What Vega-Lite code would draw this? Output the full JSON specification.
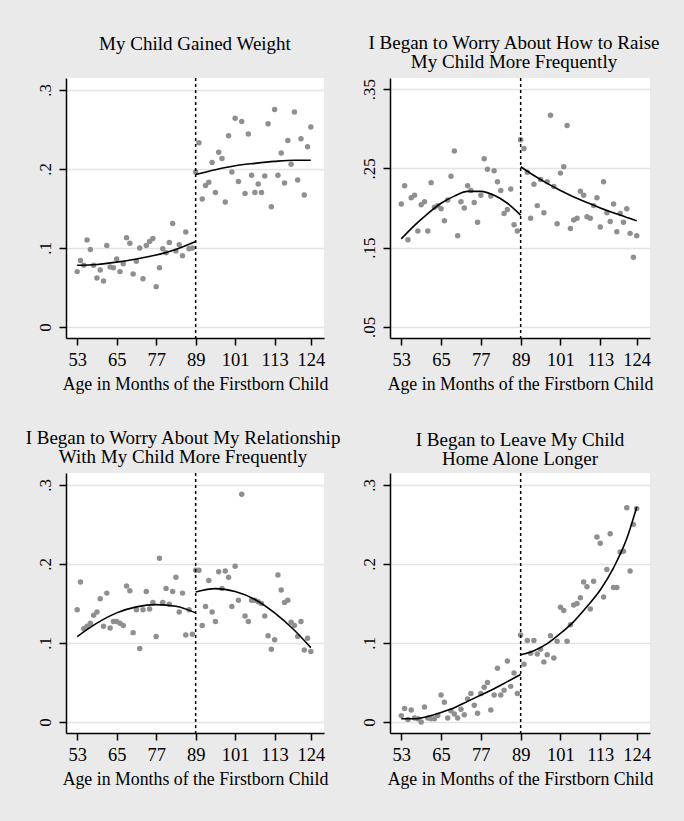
{
  "$schema": "https://vega.github.io/schema/vega-lite/v6.json",
  "padding": {"left": 24, "top": 34, "right": 25, "bottom": 33},
  "background": "#eaeaea",
  "bounds": "flush",
  "columns": 2,
  "spacing": {"row": 135, "column": 66},
  "datasets": {
    "p1": [
      {"m":53,"v":0.070},{"m":54,"v":0.084},{"m":55,"v":0.078},{"m":56,"v":0.110},{"m":57,"v":0.098},{"m":58,"v":0.078},{"m":59,"v":0.062},{"m":60,"v":0.072},{"m":61,"v":0.058},{"m":62,"v":0.103},{"m":63,"v":0.076},{"m":64,"v":0.075},{"m":65,"v":0.086},{"m":66,"v":0.070},{"m":67,"v":0.080},{"m":68,"v":0.113},{"m":69,"v":0.106},{"m":70,"v":0.067},{"m":71,"v":0.083},{"m":72,"v":0.100},{"m":73,"v":0.061},{"m":74,"v":0.103},{"m":75,"v":0.108},{"m":76,"v":0.112},{"m":77,"v":0.051},{"m":78,"v":0.075},{"m":79,"v":0.099},{"m":80,"v":0.094},{"m":81,"v":0.107},{"m":82,"v":0.131},{"m":83,"v":0.096},{"m":84,"v":0.104},{"m":85,"v":0.090},{"m":86,"v":0.120},{"m":87,"v":0.099},{"m":88,"v":0.100},
      {"m":89,"v":0.196},{"m":90,"v":0.233},{"m":91,"v":0.162},{"m":92,"v":0.179},{"m":93,"v":0.183},{"m":94,"v":0.208},{"m":95,"v":0.170},{"m":96,"v":0.221},{"m":97,"v":0.213},{"m":98,"v":0.158},{"m":99,"v":0.242},{"m":100,"v":0.196},{"m":101,"v":0.264},{"m":102,"v":0.184},{"m":103,"v":0.260},{"m":104,"v":0.169},{"m":105,"v":0.244},{"m":106,"v":0.192},{"m":107,"v":0.170},{"m":108,"v":0.181},{"m":109,"v":0.170},{"m":110,"v":0.191},{"m":111,"v":0.257},{"m":112,"v":0.152},{"m":113,"v":0.275},{"m":114,"v":0.192},{"m":115,"v":0.220},{"m":116,"v":0.182},{"m":117,"v":0.236},{"m":118,"v":0.206},{"m":119,"v":0.272},{"m":120,"v":0.186},{"m":121,"v":0.238},{"m":122,"v":0.167},{"m":123,"v":0.228},{"m":124,"v":0.253}
    ],
    "p2": [
      {"m":53,"v":0.205},{"m":54,"v":0.228},{"m":55,"v":0.160},{"m":56,"v":0.213},{"m":57,"v":0.216},{"m":58,"v":0.171},{"m":59,"v":0.204},{"m":60,"v":0.208},{"m":61,"v":0.171},{"m":62,"v":0.232},{"m":63,"v":0.201},{"m":64,"v":0.203},{"m":65,"v":0.199},{"m":66,"v":0.184},{"m":67,"v":0.210},{"m":68,"v":0.240},{"m":69,"v":0.272},{"m":70,"v":0.165},{"m":71,"v":0.208},{"m":72,"v":0.200},{"m":73,"v":0.228},{"m":74,"v":0.222},{"m":75,"v":0.207},{"m":76,"v":0.182},{"m":77,"v":0.216},{"m":78,"v":0.262},{"m":79,"v":0.249},{"m":80,"v":0.215},{"m":81,"v":0.247},{"m":82,"v":0.233},{"m":83,"v":0.222},{"m":84,"v":0.193},{"m":85,"v":0.198},{"m":86,"v":0.224},{"m":87,"v":0.179},{"m":88,"v":0.171},
      {"m":89,"v":0.286},{"m":90,"v":0.275},{"m":91,"v":0.245},{"m":92,"v":0.187},{"m":93,"v":0.230},{"m":94,"v":0.203},{"m":95,"v":0.236},{"m":96,"v":0.194},{"m":97,"v":0.233},{"m":98,"v":0.317},{"m":99,"v":0.227},{"m":100,"v":0.180},{"m":101,"v":0.244},{"m":102,"v":0.252},{"m":103,"v":0.304},{"m":104,"v":0.174},{"m":105,"v":0.185},{"m":106,"v":0.187},{"m":107,"v":0.221},{"m":108,"v":0.216},{"m":109,"v":0.189},{"m":110,"v":0.187},{"m":111,"v":0.203},{"m":112,"v":0.213},{"m":113,"v":0.176},{"m":114,"v":0.233},{"m":115,"v":0.194},{"m":116,"v":0.183},{"m":117,"v":0.205},{"m":118,"v":0.170},{"m":119,"v":0.193},{"m":120,"v":0.182},{"m":121,"v":0.199},{"m":122,"v":0.168},{"m":123,"v":0.138},{"m":124,"v":0.165}
    ],
    "p3": [
      {"m":53,"v":0.142},{"m":54,"v":0.177},{"m":55,"v":0.118},{"m":56,"v":0.121},{"m":57,"v":0.125},{"m":58,"v":0.135},{"m":59,"v":0.139},{"m":60,"v":0.156},{"m":61,"v":0.121},{"m":62,"v":0.163},{"m":63,"v":0.119},{"m":64,"v":0.127},{"m":65,"v":0.127},{"m":66,"v":0.125},{"m":67,"v":0.122},{"m":68,"v":0.172},{"m":69,"v":0.166},{"m":70,"v":0.113},{"m":71,"v":0.142},{"m":72,"v":0.093},{"m":73,"v":0.142},{"m":74,"v":0.165},{"m":75,"v":0.143},{"m":76,"v":0.151},{"m":77,"v":0.108},{"m":78,"v":0.207},{"m":79,"v":0.151},{"m":80,"v":0.169},{"m":81,"v":0.149},{"m":82,"v":0.165},{"m":83,"v":0.183},{"m":84,"v":0.139},{"m":85,"v":0.163},{"m":86,"v":0.110},{"m":87,"v":0.142},{"m":88,"v":0.111},
      {"m":89,"v":0.192},{"m":90,"v":0.192},{"m":91,"v":0.122},{"m":92,"v":0.146},{"m":93,"v":0.179},{"m":94,"v":0.139},{"m":95,"v":0.127},{"m":96,"v":0.190},{"m":97,"v":0.169},{"m":98,"v":0.191},{"m":99,"v":0.183},{"m":100,"v":0.146},{"m":101,"v":0.197},{"m":102,"v":0.154},{"m":103,"v":0.288},{"m":104,"v":0.134},{"m":105,"v":0.127},{"m":106,"v":0.154},{"m":107,"v":0.154},{"m":108,"v":0.152},{"m":109,"v":0.150},{"m":110,"v":0.134},{"m":111,"v":0.109},{"m":112,"v":0.092},{"m":113,"v":0.104},{"m":114,"v":0.186},{"m":115,"v":0.167},{"m":116,"v":0.151},{"m":117,"v":0.154},{"m":118,"v":0.126},{"m":119,"v":0.122},{"m":120,"v":0.108},{"m":121,"v":0.127},{"m":122,"v":0.091},{"m":123,"v":0.106},{"m":124,"v":0.089}
    ],
    "p4": [
      {"m":53,"v":0.008},{"m":54,"v":0.017},{"m":55,"v":0.003},{"m":56,"v":0.015},{"m":57,"v":0.005},{"m":58,"v":0.004},{"m":59,"v":0.000},{"m":60,"v":0.019},{"m":61,"v":0.005},{"m":62,"v":0.004},{"m":63,"v":0.004},{"m":64,"v":0.008},{"m":65,"v":0.034},{"m":66,"v":0.025},{"m":67,"v":0.005},{"m":68,"v":0.014},{"m":69,"v":0.010},{"m":70,"v":0.005},{"m":71,"v":0.016},{"m":72,"v":0.009},{"m":73,"v":0.029},{"m":74,"v":0.036},{"m":75,"v":0.021},{"m":76,"v":0.011},{"m":77,"v":0.036},{"m":78,"v":0.044},{"m":79,"v":0.050},{"m":80,"v":0.015},{"m":81,"v":0.034},{"m":82,"v":0.068},{"m":83,"v":0.034},{"m":84,"v":0.040},{"m":85,"v":0.077},{"m":86,"v":0.045},{"m":87,"v":0.062},{"m":88,"v":0.036},
      {"m":89,"v":0.110},{"m":90,"v":0.073},{"m":91,"v":0.103},{"m":92,"v":0.087},{"m":93,"v":0.103},{"m":94,"v":0.086},{"m":95,"v":0.092},{"m":96,"v":0.076},{"m":97,"v":0.085},{"m":98,"v":0.109},{"m":99,"v":0.081},{"m":100,"v":0.102},{"m":101,"v":0.145},{"m":102,"v":0.141},{"m":103,"v":0.102},{"m":104,"v":0.123},{"m":105,"v":0.148},{"m":106,"v":0.150},{"m":107,"v":0.157},{"m":108,"v":0.177},{"m":109,"v":0.171},{"m":110,"v":0.143},{"m":111,"v":0.178},{"m":112,"v":0.234},{"m":113,"v":0.226},{"m":114,"v":0.158},{"m":115,"v":0.193},{"m":116,"v":0.238},{"m":117,"v":0.170},{"m":118,"v":0.170},{"m":119,"v":0.215},{"m":120,"v":0.216},{"m":121,"v":0.271},{"m":122,"v":0.191},{"m":123,"v":0.250},{"m":124,"v":0.270}
    ],
    "f1": [
      {"s":"pre","m":53,"v":0.078},{"s":"pre","m":59,"v":0.079},{"s":"pre","m":65,"v":0.082},{"s":"pre","m":71,"v":0.086},{"s":"pre","m":77,"v":0.091},{"s":"pre","m":83,"v":0.098},{"s":"pre","m":89,"v":0.108},
      {"s":"post","m":89,"v":0.193},{"s":"post","m":95,"v":0.199},{"s":"post","m":101,"v":0.204},{"s":"post","m":107,"v":0.207},{"s":"post","m":113,"v":0.2095},{"s":"post","m":119,"v":0.211},{"s":"post","m":124,"v":0.211}
    ],
    "f2": [
      {"s":"pre","m":53,"v":0.161},{"s":"pre","m":57,"v":0.178},{"s":"pre","m":61,"v":0.193},{"s":"pre","m":65,"v":0.206},{"s":"pre","m":69,"v":0.215},{"s":"pre","m":73,"v":0.221},{"s":"pre","m":77,"v":0.221},{"s":"pre","m":81,"v":0.216},{"s":"pre","m":85,"v":0.206},{"s":"pre","m":89,"v":0.191},
      {"s":"post","m":89,"v":0.252},{"s":"post","m":93,"v":0.241},{"s":"post","m":97,"v":0.231},{"s":"post","m":101,"v":0.222},{"s":"post","m":105,"v":0.214},{"s":"post","m":109,"v":0.207},{"s":"post","m":113,"v":0.200},{"s":"post","m":117,"v":0.194},{"s":"post","m":121,"v":0.188},{"s":"post","m":124,"v":0.184}
    ],
    "f3": [
      {"s":"pre","m":53,"v":0.108},{"s":"pre","m":59,"v":0.125},{"s":"pre","m":65,"v":0.138},{"s":"pre","m":71,"v":0.1456},{"s":"pre","m":77,"v":0.1485},{"s":"pre","m":83,"v":0.1464},{"s":"pre","m":89,"v":0.138},
      {"s":"post","m":89,"v":0.1645},{"s":"post","m":95,"v":0.1687},{"s":"post","m":101,"v":0.165},{"s":"post","m":107,"v":0.155},{"s":"post","m":113,"v":0.138},{"s":"post","m":119,"v":0.116},{"s":"post","m":124,"v":0.094}
    ],
    "f4": [
      {"s":"pre","m":53,"v":0.004},{"s":"pre","m":57,"v":0.004},{"s":"pre","m":61,"v":0.007},{"s":"pre","m":65,"v":0.012},{"s":"pre","m":69,"v":0.018},{"s":"pre","m":73,"v":0.026},{"s":"pre","m":77,"v":0.034},{"s":"pre","m":81,"v":0.042},{"s":"pre","m":85,"v":0.051},{"s":"pre","m":89,"v":0.060},
      {"s":"post","m":89,"v":0.085},{"s":"post","m":93,"v":0.090},{"s":"post","m":97,"v":0.099},{"s":"post","m":101,"v":0.112},{"s":"post","m":105,"v":0.127},{"s":"post","m":109,"v":0.146},{"s":"post","m":113,"v":0.167},{"s":"post","m":117,"v":0.195},{"s":"post","m":121,"v":0.232},{"s":"post","m":124,"v":0.272}
    ]
  },
  "concat": [
    {
      "width": 258, "height": 260,
      "title": {"text": "My Child Gained Weight", "offset": 23},
      "layer": [
        {"data": {"name": "p1"}, "mark": {"type": "circle", "size": 30, "color": "#8f8f8f", "opacity": 1},
         "encoding": {
           "x": {"field": "m", "type": "quantitative", "scale": {"domain": [49.6, 128], "nice": false, "zero": false}, "axis": {"values": [53, 65, 77, 89, 101, 113, 124]}, "title": "Age in Months of the Firstborn Child"},
           "y": {"field": "v", "type": "quantitative", "scale": {"domain": [-0.014, 0.315], "nice": false}, "axis": {"values": [0, 0.1, 0.2, 0.3], "labelExpr": "replace(format(datum.value, '.2~f'), '0.', '.')"}, "title": null}}},
        {"data": {"name": "f1"}, "mark": {"type": "line", "color": "black", "strokeWidth": 1.6, "interpolate": "monotone"},
         "encoding": {"x": {"field": "m", "type": "quantitative"}, "y": {"field": "v", "type": "quantitative"}, "detail": {"field": "s"}}},
        {"data": {"values": [{}]}, "mark": {"type": "rule", "color": "black", "strokeWidth": 1.5, "strokeDash": [3, 3]},
         "encoding": {"x": {"datum": 89}}}
      ]
    },
    {
      "width": 260, "height": 260,
      "title": {"text": ["I Began to Worry About How to Raise", "My Child More Frequently"], "offset": 5, "dx": -6},
      "layer": [
        {"data": {"name": "p2"}, "mark": {"type": "circle", "size": 30, "color": "#8f8f8f", "opacity": 1},
         "encoding": {
           "x": {"field": "m", "type": "quantitative", "scale": {"domain": [49.6, 128], "nice": false, "zero": false}, "axis": {"values": [53, 65, 77, 89, 101, 113, 124]}, "title": "Age in Months of the Firstborn Child"},
           "y": {"field": "v", "type": "quantitative", "scale": {"domain": [0.036, 0.364], "nice": false, "zero": false}, "axis": {"values": [0.05, 0.15, 0.25, 0.35], "labelExpr": "replace(format(datum.value, '.2~f'), '0.', '.')"}, "title": null}}},
        {"data": {"name": "f2"}, "mark": {"type": "line", "color": "black", "strokeWidth": 1.6, "interpolate": "monotone"},
         "encoding": {"x": {"field": "m", "type": "quantitative"}, "y": {"field": "v", "type": "quantitative"}, "detail": {"field": "s"}}},
        {"data": {"values": [{}]}, "mark": {"type": "rule", "color": "black", "strokeWidth": 1.5, "strokeDash": [3, 3]},
         "encoding": {"x": {"datum": 89}}}
      ]
    },
    {
      "width": 258, "height": 260,
      "title": {"text": ["I Began to Worry About My Relationship", "With My Child More Frequently"], "offset": 5, "dx": -12},
      "layer": [
        {"data": {"name": "p3"}, "mark": {"type": "circle", "size": 30, "color": "#8f8f8f", "opacity": 1},
         "encoding": {
           "x": {"field": "m", "type": "quantitative", "scale": {"domain": [49.6, 128], "nice": false, "zero": false}, "axis": {"values": [53, 65, 77, 89, 101, 113, 124]}, "title": "Age in Months of the Firstborn Child"},
           "y": {"field": "v", "type": "quantitative", "scale": {"domain": [-0.014, 0.315], "nice": false}, "axis": {"values": [0, 0.1, 0.2, 0.3], "labelExpr": "replace(format(datum.value, '.2~f'), '0.', '.')"}, "title": null}}},
        {"data": {"name": "f3"}, "mark": {"type": "line", "color": "black", "strokeWidth": 1.6, "interpolate": "monotone"},
         "encoding": {"x": {"field": "m", "type": "quantitative"}, "y": {"field": "v", "type": "quantitative"}, "detail": {"field": "s"}}},
        {"data": {"values": [{}]}, "mark": {"type": "rule", "color": "black", "strokeWidth": 1.5, "strokeDash": [3, 3]},
         "encoding": {"x": {"datum": 89}}}
      ]
    },
    {
      "width": 260, "height": 260,
      "title": {"text": ["I Began to Leave My Child", "Home Alone Longer"], "offset": 3},
      "layer": [
        {"data": {"name": "p4"}, "mark": {"type": "circle", "size": 30, "color": "#8f8f8f", "opacity": 1},
         "encoding": {
           "x": {"field": "m", "type": "quantitative", "scale": {"domain": [49.6, 128], "nice": false, "zero": false}, "axis": {"values": [53, 65, 77, 89, 101, 113, 124]}, "title": "Age in Months of the Firstborn Child"},
           "y": {"field": "v", "type": "quantitative", "scale": {"domain": [-0.014, 0.315], "nice": false}, "axis": {"values": [0, 0.1, 0.2, 0.3], "labelExpr": "replace(format(datum.value, '.2~f'), '0.', '.')"}, "title": null}}},
        {"data": {"name": "f4"}, "mark": {"type": "line", "color": "black", "strokeWidth": 1.6, "interpolate": "monotone"},
         "encoding": {"x": {"field": "m", "type": "quantitative"}, "y": {"field": "v", "type": "quantitative"}, "detail": {"field": "s"}}},
        {"data": {"values": [{}]}, "mark": {"type": "rule", "color": "black", "strokeWidth": 1.5, "strokeDash": [3, 3]},
         "encoding": {"x": {"datum": 89}}}
      ]
    }
  ],
  "config": {
    "view": {"fill": "white", "stroke": null},
    "title": {"font": "Liberation Serif", "fontSize": 19, "fontWeight": "normal", "color": "black", "lineHeight": 19, "anchor": "middle"},
    "axis": {
      "domainColor": "black", "domainWidth": 1.5, "tickColor": "black", "tickWidth": 1.5, "tickSize": 7,
      "labelFont": "Liberation Serif", "labelColor": "black", "labelFlush": false, "labelOverlap": false, "labelBound": false,
      "titleFont": "Liberation Serif", "titleFontSize": 17.8, "titleFontWeight": "normal", "titleColor": "black",
      "gridColor": "#e4e4e4", "gridWidth": 1.5
    },
    "axisX": {"grid": false, "labelAngle": 0, "labelFontSize": 18.5, "labelPadding": 5, "titlePadding": 7},
    "axisY": {"grid": true, "labelAngle": 270, "labelAlign": "center", "labelBaseline": "bottom", "labelFontSize": 17, "labelPadding": 5}
  }
}
